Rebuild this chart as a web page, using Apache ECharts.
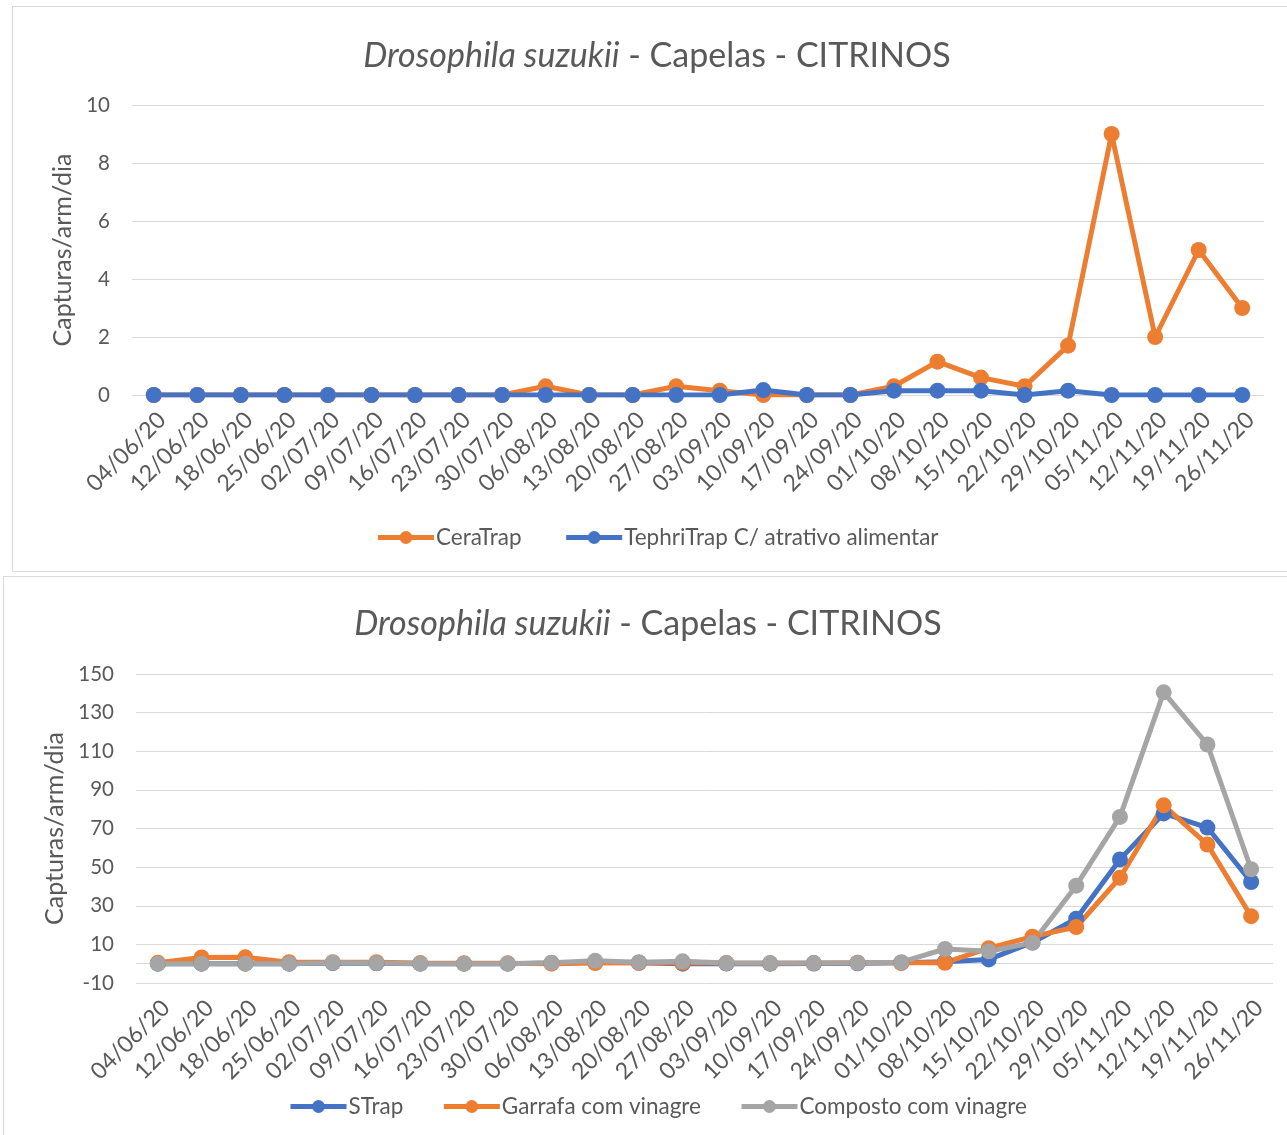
<!DOCTYPE html>
<html><head><meta charset="utf-8">
<script src="https://cdn.jsdelivr.net/npm/echarts@6/dist/echarts.min.js"></script>
<style>
html,body{margin:0;padding:0;background:#fff;width:1287px;height:1135px;overflow:hidden;position:relative;}
#c1{position:absolute;left:12px;top:6px;width:1290px;height:566px;border:1px solid #d9d9d9;box-sizing:border-box;}
#c2{position:absolute;left:3px;top:576px;width:1290px;height:566px;border:1px solid #d9d9d9;box-sizing:border-box;}
</style></head>
<body>
<div id="c1"></div>
<div id="c2"></div>
<script>
const categories = ['04/06/20','12/06/20','18/06/20','25/06/20','02/07/20','09/07/20','16/07/20','23/07/20','30/07/20','06/08/20','13/08/20','20/08/20','27/08/20','03/09/20','10/09/20','17/09/20','24/09/20','01/10/20','08/10/20','15/10/20','22/10/20','29/10/20','05/11/20','12/11/20','19/11/20','26/11/20'];
const ceraTrap   = [0,0,0,0,0,0,0,0,0,0.3,0,0,0.3,0.15,0,0,0,0.3,1.15,0.6,0.3,1.7,9,2,5,3];
const tephriTrap = [0,0,0,0,0,0,0,0,0,0,0,0,0,0,0.17,0,0,0.15,0.15,0.15,0,0.15,0,0,0,0];
const sTrap      = [0,0,0,0,0.3,0.2,0,0,0,0.3,0.8,0.5,0,0.1,0,0.1,0.2,0.5,1,2.2,11,23.3,54,77.8,70.5,42.3];
const garrafa    = [0.5,3.2,3.3,0.8,0.8,0.8,0.3,0.2,0.2,0,0.3,0.5,0.5,0.3,0.2,0.3,0.5,0.5,0.5,8,14,19,44.5,82,61.7,24.6];
const composto   = [0,0,0,0,0.5,0.3,0,0,0,0.5,1.5,0.8,1.2,0.3,0.3,0.3,0.5,0.8,7.6,6.4,10.8,40.4,76,140.5,113.5,48.9];

const FONT = 'Lato';
const TXT = '#595959';
const GRID = '#d9d9d9';

function titleOpt(top){
  return {
    text: '{i|Drosophila suzukii}{n| - Capelas - CITRINOS}',
    left: 'center', top: top,
    textStyle: { fontWeight: 'normal', rich: {
      i: { fontFamily: FONT, fontSize: 34, fontStyle: 'italic', fontWeight: 'normal', color: TXT },
      n: { fontFamily: FONT, fontSize: 34, fontWeight: 'normal', color: TXT }
    }}
  };
}
function xAxisOpt(){
  return {
    type: 'category', data: categories, boundaryGap: true,
    axisLine: { show: false }, axisTick: { show: false },
    axisLabel: { rotate: 45, color: TXT, fontFamily: FONT, fontSize: 23, margin: 13, interval: 0, verticalAlign: 'top' }
  };
}
function yAxisOpt(min, max, interval, gap){
  return {
    type: 'value', min: min, max: max, interval: interval,
    name: 'Capturas/arm/dia', nameLocation: 'middle', nameRotate: 90, nameGap: gap,
    nameTextStyle: { color: TXT, fontFamily: FONT, fontSize: 25 },
    axisLine: { show: false }, axisTick: { show: false },
    axisLabel: { color: TXT, fontFamily: FONT, fontSize: 20.5, margin: 22 },
    splitLine: { lineStyle: { color: GRID, width: 1 } }
  };
}
function lineSeries(name, data, color, extra){
  return Object.assign({
    name: name, type: 'line', data: data,
    symbol: 'circle', symbolSize: 16,
    lineStyle: { color: color, width: 5 },
    itemStyle: { color: color },
    animation: false
  }, extra || {});
}
function legendOpt(top, gap, left){
  return {
    top: top, left: left, itemWidth: 56, itemHeight: 16, itemGap: gap,
    lineStyle: { width: 5 },
    textStyle: { color: TXT, fontFamily: FONT, fontSize: 22.5, padding: [0, 0, 0, -3] }
  };
}

const c1 = echarts.init(document.getElementById('c1'));
c1.setOption({
  animation: false,
  title: titleOpt(27),
  grid: { left: 119, top: 98, width: 1132, height: 290 },
  legend: legendOpt(514, 42, 'center'),
  xAxis: xAxisOpt(),
  yAxis: yAxisOpt(0, 10, 2, 55),
  series: [
    lineSeries('CeraTrap', ceraTrap, '#ED7D31'),
    lineSeries('TephriTrap C/ atrativo alimentar', tephriTrap, '#4472C4')
  ]
});

const c2 = echarts.init(document.getElementById('c2'));
c2.setOption({
  animation: false,
  title: titleOpt(25),
  grid: { left: 132, top: 97, width: 1137, height: 309 },
  legend: legendOpt(513, 38, 279),
  xAxis: xAxisOpt(),
  yAxis: yAxisOpt(-10, 150, 20, 68),
  series: [
    lineSeries('STrap', sTrap, '#4472C4', {
      markLine: { silent: true, symbol: 'none', label: { show: false },
        lineStyle: { color: GRID, width: 1, type: 'solid' }, data: [{ yAxis: 0 }], z: 1 }
    }),
    lineSeries('Garrafa com vinagre', garrafa, '#ED7D31'),
    lineSeries('Composto com vinagre', composto, '#A5A5A5')
  ]
});
</script>
</body></html>
